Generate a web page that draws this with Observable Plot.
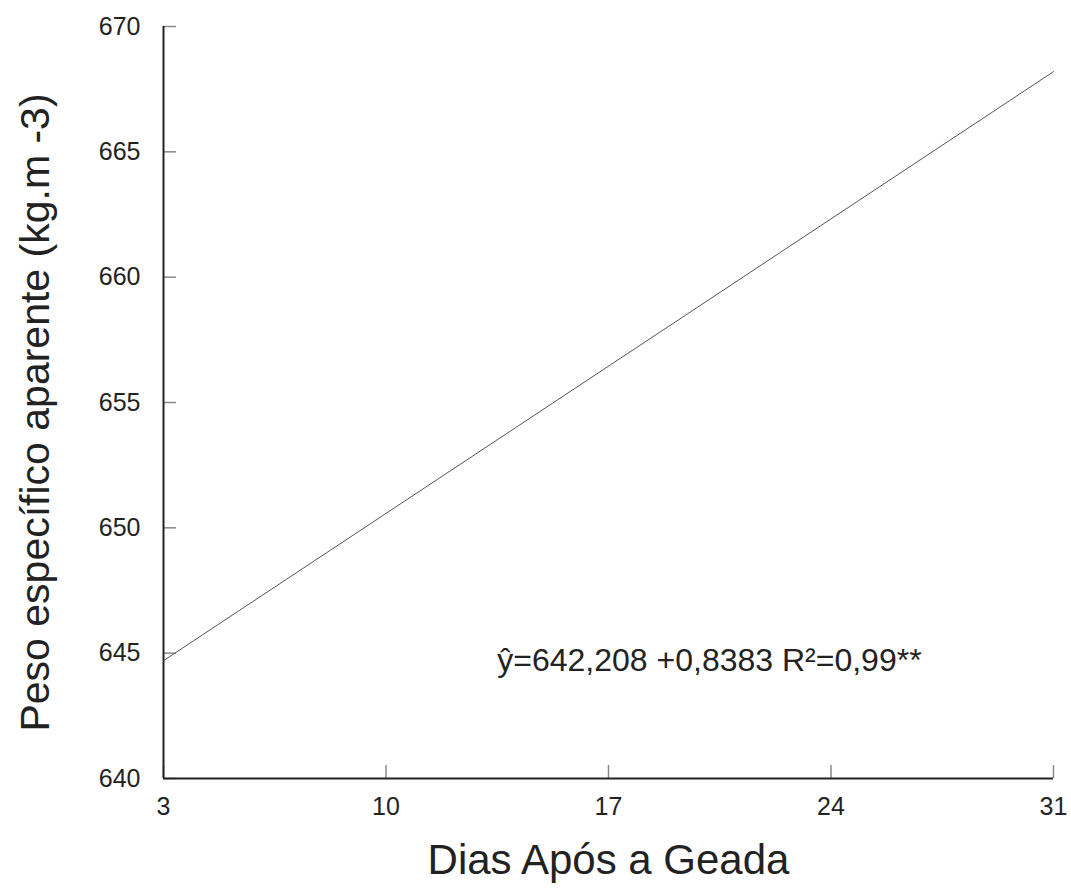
<!DOCTYPE html>
<html>
<head>
<meta charset="utf-8">
<script src="https://cdn.jsdelivr.net/npm/d3@7"></script>
<script src="https://cdn.jsdelivr.net/npm/@observablehq/plot@0.6"></script>
<style>
  html, body { margin: 0; padding: 0; background: #fff; }
  svg { display: block; }
</style>
</head>
<body>
<div id="chart"></div>
<script>
const days = [3, 31];
const peso = [644.7, 668.2];
const xTicks = [3, 10, 17, 24, 31];
const yTicks = [640, 645, 650, 655, 660, 665, 670];
const xTitle = "Dias Após a Geada";
const yTitle = "Peso específico aparente (kg.m -3)";
const equation = "ŷ=642,208 +0,8383 R²=0,99**";
const eqPos = {x: 13.5, y: 644.7};

const lineData = days.map((d, i) => ({x: d, y: peso[i]}));
const font = "Liberation Sans, Arial, Helvetica, sans-serif";

const chart = Plot.plot({
  width: 1071,
  height: 888,
  marginLeft: 163,
  marginRight: 18,
  marginTop: 26,
  marginBottom: 110,
  style: {fontFamily: font, color: "#222", background: "#fff"},
  x: {domain: [3, 31]},
  y: {domain: [640, 670]},
  marks: [
    // inward tick marks
    Plot.axisY(yTicks, {tickSize: -13, tickFormat: () => "", stroke: "#888", strokeWidth: 1.5, label: null}),
    Plot.axisX(xTicks, {tickSize: -13, tickFormat: () => "", stroke: "#888", strokeWidth: 1.5, label: null}),
    // labels
    Plot.axisY(yTicks, {tickSize: 0, tickPadding: 23, fontSize: 25, fill: "#222", label: null}),
    Plot.axisX(xTicks, {tickSize: 0, tickPadding: 19, fontSize: 25, fill: "#222", label: null}),
    // axis lines
    Plot.ruleX([3], {stroke: "#222", strokeWidth: 2}),
    Plot.ruleY([640], {stroke: "#222", strokeWidth: 2}),
    // regression line
    Plot.line(lineData, {x: "x", y: "y", stroke: "#555", strokeWidth: 1}),
    // equation
    Plot.text([equation], {x: eqPos.x, y: eqPos.y, text: d => d, textAnchor: "start", fontSize: 32, fill: "#222"}),
    // titles
    Plot.text([xTitle], {frameAnchor: "bottom", dy: 95, text: d => d, fontSize: 42, fill: "#222"}),
    Plot.text([yTitle], {frameAnchor: "left", dx: -128, dy: 10, rotate: -90, textAnchor: "middle", text: d => d, fontSize: 41, fill: "#222"})
  ]
});
document.getElementById("chart").appendChild(chart);
</script>
</body>
</html>
